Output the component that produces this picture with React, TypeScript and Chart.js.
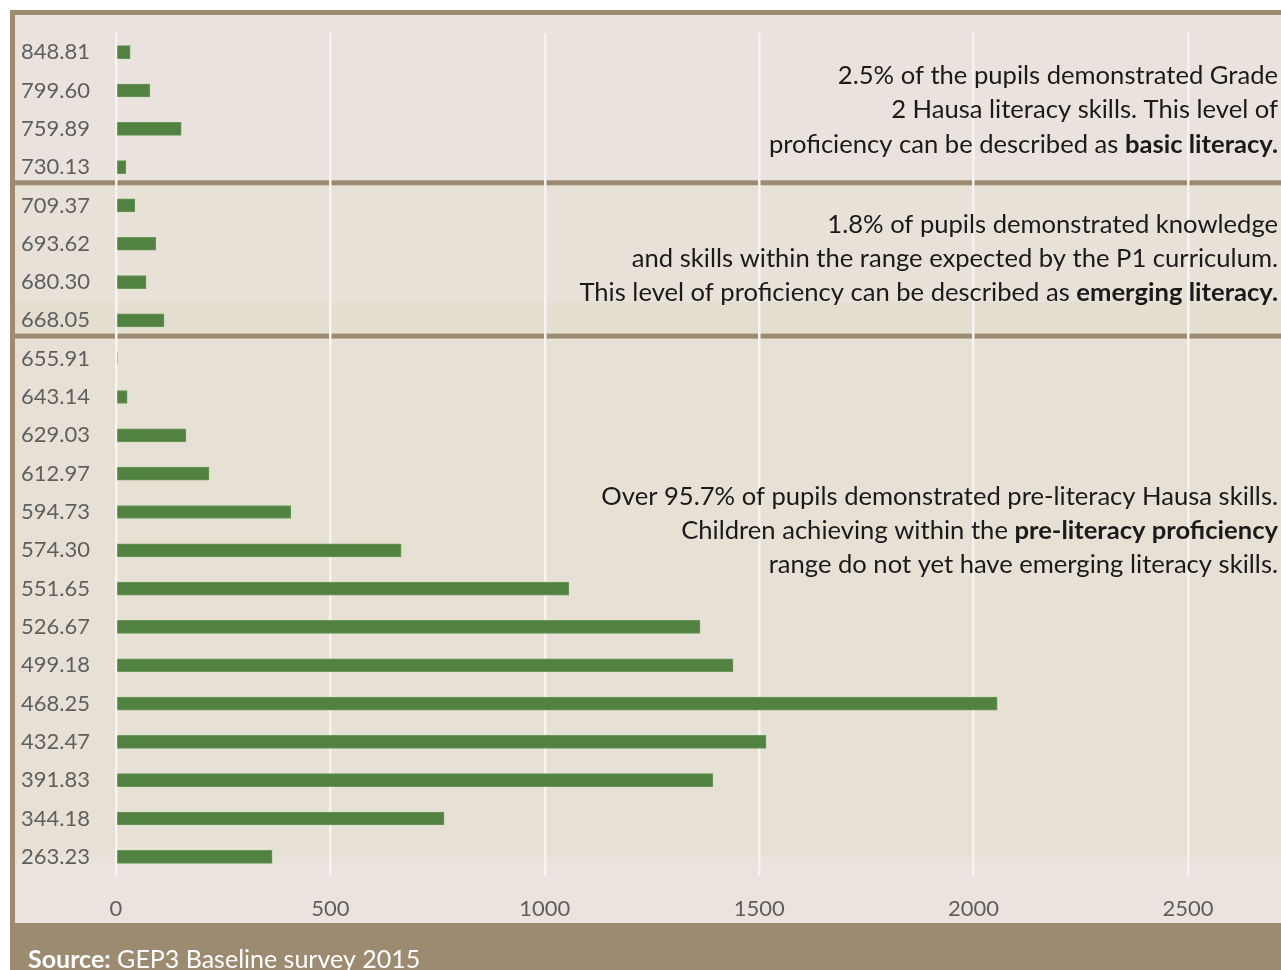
import React, { useEffect, useRef } from 'react';
import { Chart, registerables } from 'chart.js';

Chart.register(...registerables);

// ---- data ----
const scoreBands = [
  '848.81', '799.60', '759.89', '730.13',
  '709.37', '693.62', '680.30', '668.05',
  '655.91', '643.14', '629.03', '612.97', '594.73', '574.30', '551.65',
  '526.67', '499.18', '468.25', '432.47', '391.83', '344.18', '263.23',
];
const pupilCounts = [
  33, 79, 152, 23,
  44, 93, 70, 112,
  3, 26, 163, 217, 408, 665, 1056,
  1362, 1439, 2055, 1516, 1392, 765, 364,
];
const xTickValues = [0, 500, 1000, 1500, 2000, 2500];
const xAxisMax = 2717;
const sectionBreaks = [3.5, 7.5];

type Seg = { t: string; b?: boolean };
const noteBasic: Seg[][] = [
  [{ t: '2.5% of the pupils demonstrated Grade' }],
  [{ t: '2 Hausa literacy skills. This level of' }],
  [{ t: 'proficiency can be described as ' }, { t: 'basic literacy.', b: true }],
];
const noteEmerging: Seg[][] = [
  [{ t: '1.8% of pupils demonstrated knowledge' }],
  [{ t: 'and skills within the range expected by the P1 curriculum.' }],
  [{ t: 'This level of proficiency can be described as ' }, { t: 'emerging literacy.', b: true }],
];
const notePre: Seg[][] = [
  [{ t: 'Over 95.7% of pupils demonstrated pre-literacy Hausa skills.' }],
  [{ t: 'Children achieving within the ' }, { t: 'pre-literacy proficiency', b: true }],
  [{ t: 'range do not yet have emerging literacy skills.' }],
];
const notes = [
  { at: 0.62, lines: noteBasic },
  { at: 4.5, lines: noteEmerging },
  { at: 11.6, lines: notePre },
];
const sourceLabel = 'Source:';
const sourceText = ' GEP3 Baseline survey 2015';

const FONT = 'Lato, "Open Sans", sans-serif';
const BROWN = '#9c8b70';

const decorPlugin = {
  id: 'decor',
  beforeDraw(chart: any) {
    const { ctx, width, height } = chart;
    const y = chart.scales.y;
    const p = (v: number) => y.getPixelForValue(v);
    const footerTop = height - 47;
    ctx.save();
    ctx.fillStyle = '#ffffff';
    ctx.fillRect(0, 0, width, height);
    const sep1 = p(sectionBreaks[0]) - 6;
    const sep2 = p(sectionBreaks[1]) - 6;
    // section backgrounds
    ctx.fillStyle = '#e9e2dd';
    ctx.fillRect(15, 15, width - 15, sep1 - 15);
    ctx.fillStyle = '#e7e1d8';
    ctx.fillRect(15, sep1, width - 15, p(6.5) - sep1);
    ctx.fillStyle = '#e4ded1';
    ctx.fillRect(15, p(6.5), width - 15, sep2 - p(6.5));
    ctx.fillStyle = '#e6e0d5';
    ctx.fillRect(15, sep2, width - 15, p(21) + 1 - sep2);
    ctx.fillStyle = '#eae3de';
    ctx.fillRect(15, p(21) + 1, width - 15, footerTop - p(21) - 1);
    // frame
    ctx.fillStyle = BROWN;
    ctx.fillRect(10, 10, width - 10, 5);
    ctx.fillRect(10, 10, 5, footerTop - 10);
    ctx.fillRect(10, sep1, width - 10, 5);
    ctx.fillRect(10, sep2, width - 10, 5);
    ctx.fillRect(10, footerTop, width - 10, height - footerTop);
    ctx.restore();
  },
  afterDraw(chart: any) {
    const { ctx, chartArea, height } = chart;
    const y = chart.scales.y;
    const right = chartArea.right - 3;
    const size = 25.6;
    const lh = 34.2;
    ctx.save();
    ctx.textBaseline = 'middle';
    ctx.fillStyle = '#1a1a1a';
    for (const note of notes) {
      const y0 = y.getPixelForValue(note.at);
      note.lines.forEach((line, i) => {
        let x = right;
        for (let k = line.length - 1; k >= 0; k--) {
          const seg = line[k];
          ctx.font = `${seg.b ? 'bold ' : ''}${size}px ${FONT}`;
          const w = ctx.measureText(seg.t).width;
          x -= w;
          ctx.textAlign = 'left';
          ctx.fillText(seg.t, x, y0 + i * lh);
        }
      });
    }
    // footer
    ctx.fillStyle = '#ffffff';
    ctx.textBaseline = 'alphabetic';
    ctx.textAlign = 'left';
    ctx.font = `bold 25px ${FONT}`;
    ctx.fillText(sourceLabel, 28, height - 2);
    const w = ctx.measureText(sourceLabel).width;
    ctx.font = `25px ${FONT}`;
    ctx.fillText(sourceText, 28 + w, height - 2);
    ctx.restore();
  },
};

export default function App() {
  const ref = useRef<HTMLCanvasElement | null>(null);
  useEffect(() => {
    if (!ref.current) return;
    const chart = new Chart(ref.current, {
      type: 'bar',
      data: {
        labels: scoreBands,
        datasets: [
          {
            data: pupilCounts,
            backgroundColor: '#518241',
            borderColor: '#6a9857',
            borderWidth: 1,
            barThickness: 13,
          },
        ],
      },
      options: {
        indexAxis: 'y',
        responsive: false,
        animation: false,
        layout: { padding: { top: 33, right: 0, bottom: 47, left: 0 } },
        plugins: { legend: { display: false }, tooltip: { enabled: false } },
        scales: {
          x: {
            min: 0,
            max: xAxisMax,
            afterBuildTicks: (scale: any) => {
              scale.ticks = xTickValues.map((v) => ({ value: v }));
            },
            afterFit: (scale: any) => {
              scale.height = 47;
              scale.paddingLeft = 0;
              scale.paddingRight = 0;
            },
            grid: { color: '#f6f3f0', lineWidth: 2.5, drawTicks: false },
            border: { display: false },
            ticks: {
              padding: 20,
              color: '#5f5f5f',
              font: { family: FONT, size: 22 },
              callback: (v: any) => String(v),
            },
          },
          y: {
            afterFit: (scale: any) => {
              scale.width = 116;
              scale.paddingTop = 0;
              scale.paddingBottom = 0;
            },
            grid: { display: false, drawTicks: false },
            border: { display: false },
            ticks: {
              padding: 26,
              color: '#5f5f5f',
              font: { family: FONT, size: 22 },
            },
          },
        },
      },
      plugins: [decorPlugin],
    } as any);
    return () => chart.destroy();
  }, []);
  return (
    <div style={{ position: 'absolute', left: 0, top: 0, width: 1281, height: 970, overflow: 'hidden' }}>
      <canvas ref={ref} width={1281} height={970} style={{ display: 'block' }} />
    </div>
  );
}
